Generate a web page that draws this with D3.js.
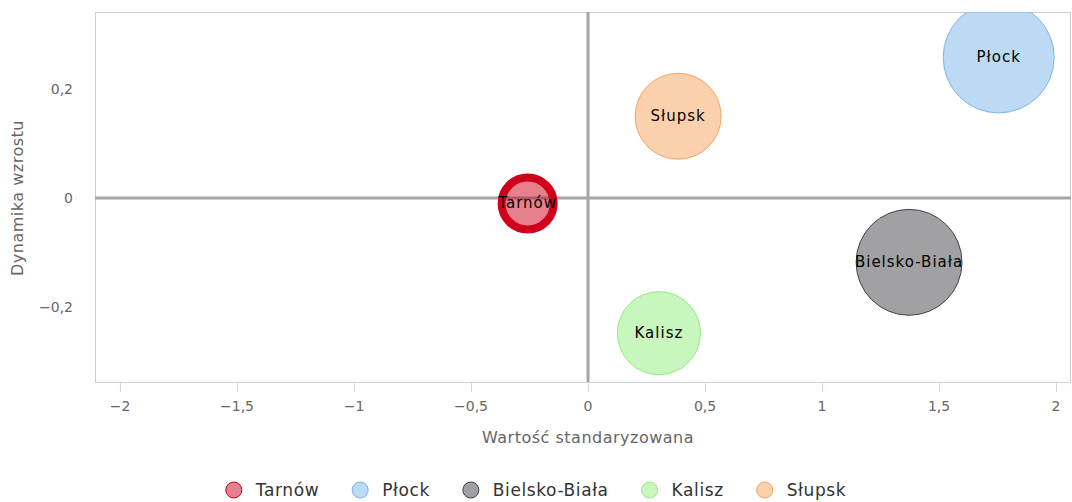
<!DOCTYPE html>
<html>
<head>
<meta charset="utf-8">
<script src="https://cdn.jsdelivr.net/npm/d3@7"></script>
<style>
  body { margin: 0; background: #fff; }
  svg text { font-family: "DejaVu Sans", sans-serif; }
</style>
</head>
<body>
<div id="chart"></div>
<script>
// Data
const cities = ["Tarnów", "Płock", "Bielsko-Biała", "Kalisz", "Słupsk"];
const xValues = [-0.258, 1.755, 1.372, 0.303, 0.385];   // Wartość standaryzowana
const yValues = [-0.010, 0.258, -0.118, -0.248, 0.150]; // Dynamika wzrostu
const sizes = [22, 100, 91, 56, 60];                     // bubble size
const strokeColors = ["#d0021b", "#7cb5ec", "#434348", "#90ed7d", "#f7a35c"];
const xTicks = [-2, -1.5, -1, -0.5, 0, 0.5, 1, 1.5, 2];
const yTicks = [-0.2, 0, 0.2];

const width = 1072, height = 502;
const margin = { top: 12, right: 1, bottom: 120, left: 95 };
const plotW = width - margin.left - margin.right;
const plotH = 382 - margin.top;

const svg = d3.select("#chart").append("svg")
  .attr("width", width)
  .attr("height", height);

const x = d3.scaleLinear().domain([-2.107, 2.064]).range([0, plotW]);
const y = d3.scaleLinear().domain([-0.3376, 0.3413]).range([plotH, 0]);
const r = d3.scaleSqrt().domain([0, d3.max(sizes)]).range([0, 55.5]);

const fmt = v => (v < 0 ? "\u2212" : "") + String(Math.abs(v)).replace(".", ",");

const g = svg.append("g").attr("transform", `translate(${margin.left},${margin.top})`);

// plot frame
g.append("rect")
  .attr("x", 0.5).attr("y", 0.5)
  .attr("width", plotW - 1).attr("height", plotH)
  .attr("fill", "none").attr("stroke", "#cccccc");

// x axis line + ticks
g.append("line")
  .attr("x1", 0).attr("x2", plotW)
  .attr("y1", plotH + 0.5).attr("y2", plotH + 0.5)
  .attr("stroke", "#ccd6eb");

g.selectAll(".xtick")
  .data(xTicks).join("line")
  .attr("class", "xtick")
  .attr("x1", d => Math.round(x(d)) + 0.5).attr("x2", d => Math.round(x(d)) + 0.5)
  .attr("y1", plotH).attr("y2", plotH + 10)
  .attr("stroke", "#ccd6eb");

g.selectAll(".xlabel")
  .data(xTicks).join("text")
  .attr("class", "xlabel")
  .attr("x", d => x(d))
  .attr("y", plotH + 29)
  .attr("text-anchor", "middle")
  .attr("font-size", 14)
  .attr("fill", "#666666")
  .text(fmt);

g.selectAll(".ylabel")
  .data(yTicks).join("text")
  .attr("class", "ylabel")
  .attr("x", -22)
  .attr("y", d => y(d) + 5)
  .attr("text-anchor", "end")
  .attr("font-size", 14)
  .attr("fill", "#666666")
  .text(fmt);

// zero lines
svg.append("clipPath").attr("id", "plotClip")
  .append("rect").attr("width", plotW).attr("height", plotH);

g.append("line")
  .attr("x1", 0).attr("x2", plotW)
  .attr("y1", y(0)).attr("y2", y(0))
  .attr("stroke", "#a6a6a6").attr("stroke-width", 3);
g.append("line")
  .attr("x1", x(0)).attr("x2", x(0))
  .attr("y1", 0).attr("y2", plotH)
  .attr("stroke", "#a6a6a6").attr("stroke-width", 3);

// axis titles
svg.append("text")
  .attr("x", margin.left + x(0))
  .attr("y", 443)
  .attr("text-anchor", "middle")
  .attr("font-size", 16)
  .attr("letter-spacing", 0.5)
  .attr("fill", "#666666")
  .text("Wartość standaryzowana");

svg.append("text")
  .attr("transform", `translate(23,${margin.top + y(0)}) rotate(-90)`)
  .attr("text-anchor", "middle")
  .attr("font-size", 16)
  .attr("letter-spacing", 0.5)
  .attr("fill", "#666666")
  .text("Dynamika wzrostu");

// bubbles
const bubbles = g.append("g").attr("clip-path", "url(#plotClip)");
const idx = d3.range(cities.length);

bubbles.selectAll("circle")
  .data(idx).join("circle")
  .attr("cx", i => x(xValues[i]))
  .attr("cy", i => y(yValues[i]))
  .attr("r", i => r(sizes[i]))
  .attr("fill", i => d3.color(strokeColors[i]).copy({ opacity: 0.5 }))
  .attr("stroke", i => strokeColors[i])
  .attr("stroke-width", i => i === 0 ? 8 : 1);

bubbles.selectAll("text")
  .data(idx).join("text")
  .attr("x", i => x(xValues[i]))
  .attr("y", i => y(yValues[i]) + 5)
  .attr("text-anchor", "middle")
  .attr("font-size", 15)
  .attr("letter-spacing", 1)
  .attr("fill", "#000000")
  .text(i => cities[i]);

// legend
const legend = svg.append("g");
let lx = 0;
idx.forEach(function (i) {
  const item = legend.append("g").attr("transform", `translate(${lx},490)`);
  item.append("circle")
    .attr("cx", 8).attr("cy", 0).attr("r", 8)
    .attr("fill", d3.color(strokeColors[i]).copy({ opacity: 0.5 }))
    .attr("stroke", strokeColors[i]).attr("stroke-width", 1);
  const t = item.append("text")
    .attr("x", 30).attr("y", 6)
    .attr("font-size", 17)
    .attr("letter-spacing", 0.6)
    .attr("fill", "#333333")
    .text(cities[i]);
  lx += 30 + t.node().getComputedTextLength() + 33;
});
const total = lx - 33;
legend.attr("transform", `translate(${(width - total) / 2},0)`);
</script>
</body>
</html>
